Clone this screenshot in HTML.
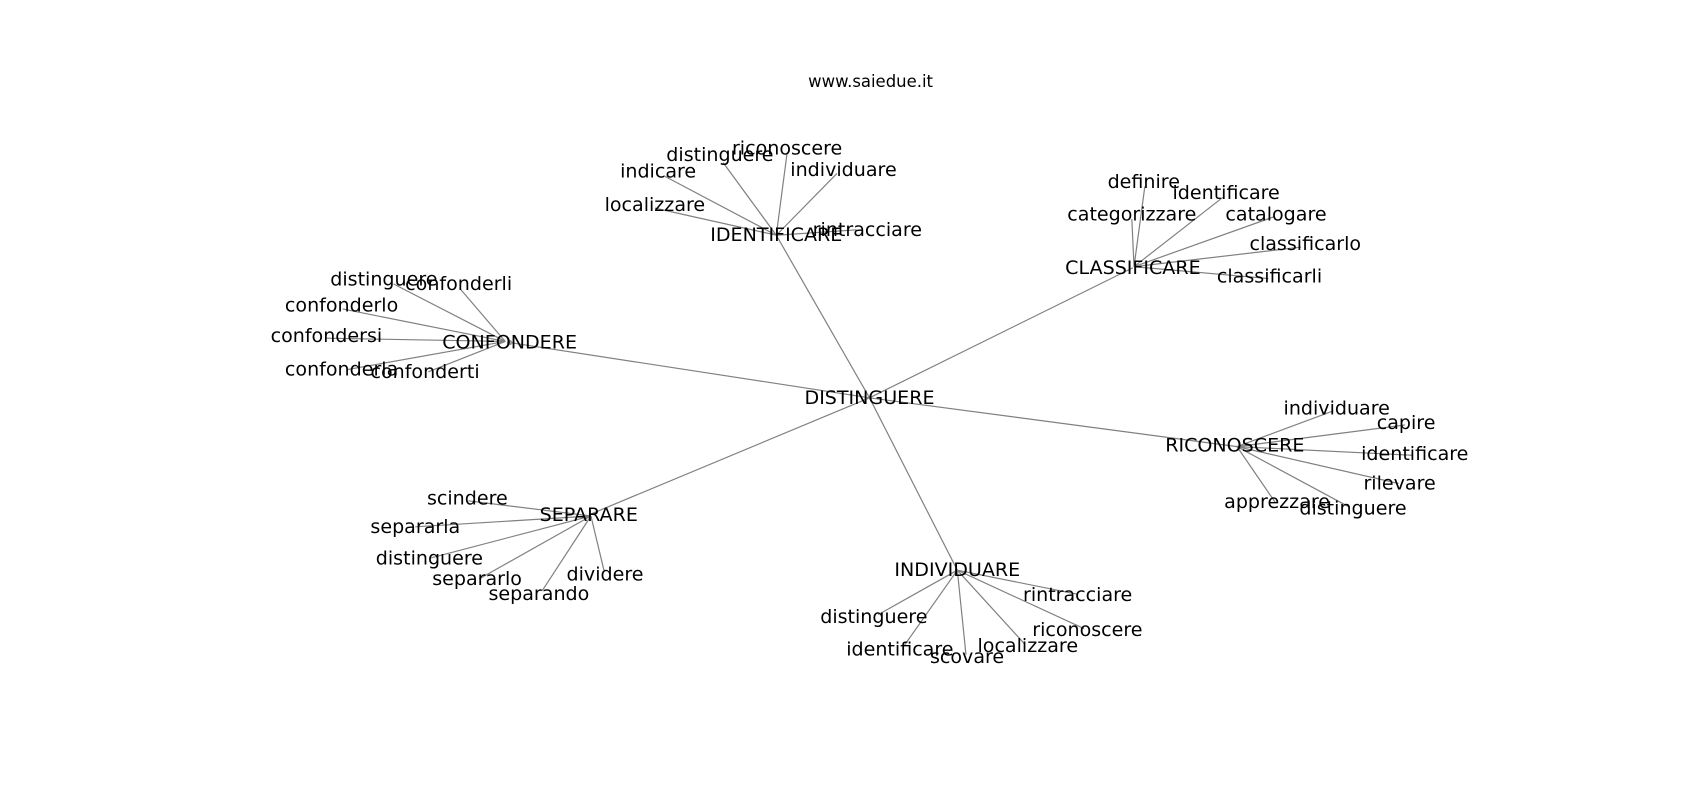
<!DOCTYPE html>
<html><head><meta charset="utf-8"><style>
html,body{margin:0;padding:0;background:#fff;}
svg{display:block;}
text{font-family:"DejaVu Sans","Liberation Sans",sans-serif;fill:#000;}
</style></head><body>
<svg width="1700" height="800" viewBox="0 0 1568 738" xmlns="http://www.w3.org/2000/svg">
<g stroke="#808080" stroke-width="1.1" fill="none">
<line x1="802" y1="367" x2="470" y2="316"/>
<line x1="802" y1="367" x2="716" y2="217"/>
<line x1="802" y1="367" x2="1045" y2="247"/>
<line x1="802" y1="367" x2="1141" y2="412"/>
<line x1="802" y1="367" x2="543" y2="475"/>
<line x1="802" y1="367" x2="883" y2="526"/>
<line x1="716" y1="217" x2="726" y2="141"/>
<line x1="716" y1="217" x2="667" y2="150"/>
<line x1="716" y1="217" x2="612" y2="162"/>
<line x1="716" y1="217" x2="772" y2="160"/>
<line x1="716" y1="217" x2="604" y2="192"/>
<line x1="716" y1="217" x2="790" y2="212"/>
<line x1="466" y1="315" x2="363" y2="262"/>
<line x1="466" y1="315" x2="424" y2="266"/>
<line x1="466" y1="315" x2="316" y2="285"/>
<line x1="466" y1="315" x2="301" y2="312"/>
<line x1="466" y1="315" x2="320" y2="341"/>
<line x1="466" y1="315" x2="395" y2="343"/>
<line x1="1046" y1="246" x2="1056" y2="172"/>
<line x1="1046" y1="246" x2="1128" y2="182"/>
<line x1="1046" y1="246" x2="1044" y2="202"/>
<line x1="1046" y1="246" x2="1175" y2="200"/>
<line x1="1046" y1="246" x2="1200" y2="228"/>
<line x1="1046" y1="246" x2="1170" y2="257"/>
<line x1="1141" y1="412" x2="1230" y2="379"/>
<line x1="1141" y1="412" x2="1296" y2="392"/>
<line x1="1141" y1="412" x2="1303" y2="420"/>
<line x1="1141" y1="412" x2="1290" y2="446"/>
<line x1="1141" y1="412" x2="1176" y2="463"/>
<line x1="1141" y1="412" x2="1245" y2="468"/>
<line x1="545" y1="476" x2="432" y2="462"/>
<line x1="545" y1="476" x2="383" y2="486"/>
<line x1="545" y1="476" x2="396" y2="515"/>
<line x1="545" y1="476" x2="442" y2="534"/>
<line x1="545" y1="476" x2="557" y2="526"/>
<line x1="545" y1="476" x2="500" y2="545"/>
<line x1="883" y1="526" x2="993" y2="548"/>
<line x1="883" y1="526" x2="810" y2="567"/>
<line x1="883" y1="526" x2="1000" y2="580"/>
<line x1="883" y1="526" x2="833" y2="597"/>
<line x1="883" y1="526" x2="945" y2="594"/>
<line x1="883" y1="526" x2="891" y2="604"/>
</g>
<circle cx="470" cy="316" r="2.5" fill="#999"/>
<g font-size="17.6" text-anchor="middle" dominant-baseline="central">
<text x="802" y="367">DISTINGUERE</text>
<text x="470" y="316">CONFONDERE</text>
<text x="716" y="217">IDENTIFICARE</text>
<text x="1045" y="247">CLASSIFICARE</text>
<text x="1139" y="411">RICONOSCERE</text>
<text x="543" y="475">SEPARARE</text>
<text x="883" y="526">INDIVIDUARE</text>
<text x="726" y="137">riconoscere</text>
<text x="664" y="143">distinguere</text>
<text x="607" y="158">indicare</text>
<text x="778" y="157">individuare</text>
<text x="604" y="189">localizzare</text>
<text x="800" y="212">rintracciare</text>
<text x="354" y="258">distinguere</text>
<text x="423" y="262">confonderli</text>
<text x="315" y="282">confonderlo</text>
<text x="301" y="310">confondersi</text>
<text x="315" y="341">confonderla</text>
<text x="392" y="343">confonderti</text>
<text x="1055" y="168">definire</text>
<text x="1131" y="178">identificare</text>
<text x="1044" y="198">categorizzare</text>
<text x="1177" y="198">catalogare</text>
<text x="1204" y="225">classificarlo</text>
<text x="1171" y="255">classificarli</text>
<text x="1233" y="377">individuare</text>
<text x="1297" y="390">capire</text>
<text x="1305" y="419">identificare</text>
<text x="1291" y="446">rilevare</text>
<text x="1178" y="463">apprezzare</text>
<text x="1248" y="469">distinguere</text>
<text x="431" y="460">scindere</text>
<text x="383" y="486">separarla</text>
<text x="396" y="515">distinguere</text>
<text x="440" y="534">separarlo</text>
<text x="558" y="530">dividere</text>
<text x="497" y="548">separando</text>
<text x="994" y="549">rintracciare</text>
<text x="806" y="569">distinguere</text>
<text x="1003" y="581">riconoscere</text>
<text x="830" y="599">identificare</text>
<text x="948" y="596">localizzare</text>
<text x="892" y="606">scovare</text>
</g>
<text x="803" y="75" font-size="15.2" text-anchor="middle" dominant-baseline="central">www.saiedue.it</text>
</svg>
</body></html>
